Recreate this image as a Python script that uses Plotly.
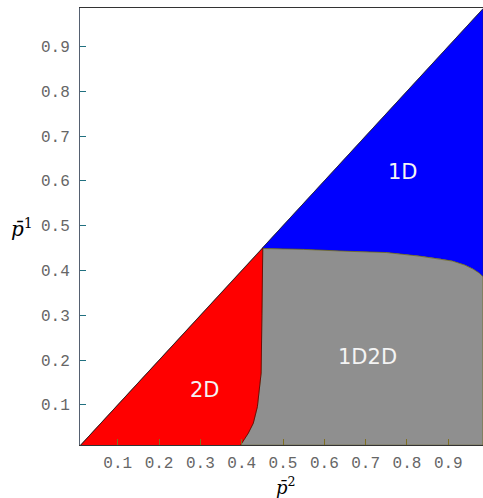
import plotly.graph_objects as go

# Axis extents (data units)
x_range = [0.0087, 0.984]
y_range = [0.0105, 0.9857]

# Diagonal p1 = p2 (upper edge of the coloured domain)
diag_start = 0.01
kink = 0.45
diag_end = 0.984

# Boundary between 1D (blue) and 1D2D (gray)
bd_x = [0.45, 0.55, 0.65, 0.75, 0.83, 0.88, 0.91, 0.94, 0.96, 0.975, 0.984]
bd_y = [0.449, 0.447, 0.443, 0.440, 0.432, 0.426, 0.421, 0.412, 0.403, 0.394, 0.386]

# Boundary between 2D (red) and 1D2D (gray), top to bottom
br_y = [0.45, 0.30, 0.171, 0.096, 0.059, 0.037, 0.018, 0.01]
br_x = [0.451, 0.449, 0.447, 0.438, 0.428, 0.416, 0.403, 0.397]

bottom = 0.01

region_labels = ["1D", "1D2D", "2D"]
label_x = [0.79, 0.705, 0.311]
label_y = [0.62, 0.208, 0.134]

tick_vals = [0.1, 0.2, 0.3, 0.4, 0.5, 0.6, 0.7, 0.8, 0.9]
tick_text = ["0.1", "0.2", "0.3", "0.4", "0.5", "0.6", "0.7", "0.8", "0.9"]

fig = go.Figure()

# Blue 1D region
blue_x = [kink, diag_end, diag_end] + bd_x[::-1]
blue_y = [kink, diag_end, bd_y[-1]] + bd_y[::-1]
fig.add_trace(go.Scatter(x=blue_x, y=blue_y, fill="toself", fillcolor="#0000ff",
                         mode="lines", line=dict(color="#1a1a70", width=0.6),
                         hoverinfo="skip", showlegend=False))

# Gray 1D2D region
gray_x = bd_x + [diag_end, br_x[-1]] + br_x[::-1]
gray_y = bd_y + [bottom, bottom] + br_y[::-1]
fig.add_trace(go.Scatter(x=gray_x, y=gray_y, fill="toself", fillcolor="#8f8f8f",
                         mode="lines", line=dict(color="#6e6a20", width=0.8),
                         hoverinfo="skip", showlegend=False))

# Red 2D region
red_x = [diag_start, kink] + br_x
red_y = [diag_start, kink] + br_y
fig.add_trace(go.Scatter(x=red_x, y=red_y, fill="toself", fillcolor="#ff0000",
                         mode="lines", line=dict(color="#5a0000", width=0.8),
                         hoverinfo="skip", showlegend=False))

# Diagonal edge line
fig.add_trace(go.Scatter(x=[diag_start, diag_end], y=[diag_start, diag_end],
                         mode="lines", line=dict(color="#202020", width=0.7),
                         hoverinfo="skip", showlegend=False))

for t, xx, yy in zip(region_labels, label_x, label_y):
    fig.add_annotation(x=xx, y=yy, text=t, showarrow=False,
                       font=dict(family="DejaVu Sans", size=21, color="#f4f4f4"))

tick_font = dict(family="Liberation Mono", size=16, color="#666666")

fig.update_xaxes(range=x_range, tickvals=tick_vals, ticktext=tick_text,
                 ticks="inside", ticklen=6, tickcolor="#807020", tickwidth=1,
                 showline=True, linecolor="#333333", linewidth=1, mirror=True,
                 showgrid=False, zeroline=False, tickfont=tick_font,
                 ticklabelstandoff=3, automargin=False)
fig.update_yaxes(range=y_range, tickvals=tick_vals, ticktext=tick_text,
                 ticks="inside", ticklen=6, tickcolor="#207080", tickwidth=1,
                 showline=True, linecolor="#556070", linewidth=1, mirror=True,
                 showgrid=False, zeroline=False, tickfont=tick_font,
                 ticklabelstandoff=6, automargin=False)

# Axis titles as annotations (serif, LaTeX-like)
fig.add_annotation(xref="paper", yref="paper", x=0.51, y=-0.094,
                   text="<i>p̄</i><sup>2</sup>", showarrow=False,
                   font=dict(family="DejaVu Serif", size=18, color="#000000"),
                   xanchor="center", yanchor="middle")
fig.add_annotation(xref="paper", yref="paper", x=-0.144, y=0.497,
                   text="<i>p̄</i><sup>1</sup>", showarrow=False,
                   font=dict(family="DejaVu Serif", size=20, color="#000000"),
                   xanchor="center", yanchor="middle")

fig.update_layout(width=483, height=498,
                  margin=dict(l=80, r=0, t=8, b=53),
                  plot_bgcolor="white", paper_bgcolor="white")

fig.write_html("out.html", config={"displayModeBar": False},
               post_script="document.body.style.margin='0';document.body.style.overflow='hidden';")
